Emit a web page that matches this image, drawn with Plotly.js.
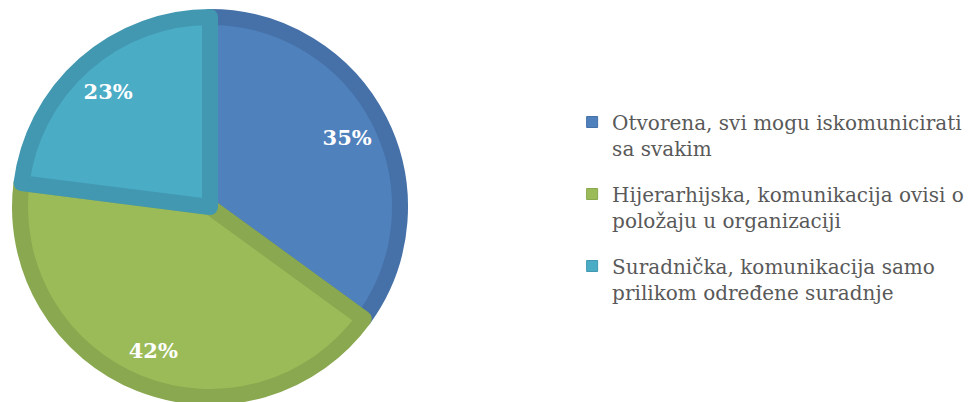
<!DOCTYPE html>
<html>
<head>
<meta charset="utf-8">
<script src="https://cdn.plot.ly/plotly-3.0.1.min.js"></script>
<style>html,body{margin:0;padding:0;background:#fff;}#chart{width:973px;height:402px;}</style>
</head>
<body>
<div id="chart"></div>
<script>
const categories = [
  "Otvorena, svi mogu iskomunicirati<br>sa svakim",
  "Hijerarhijska, komunikacija ovisi o<br>položaju u organizaciji",
  "Suradnička, komunikacija samo<br>prilikom određene suradnje"
];
const values = [35, 42, 23];
const fillColors = ["#4F81BD", "#9BBB59", "#4BACC6"];
const borderColors = ["#4671A8", "#8AA84F", "#4298B0"];

const pieDomain = {x: [20/973, 400/973], y: [5/402, 385/402]};

// Visible pie
const pie = {
  type: "pie",
  labels: categories,
  values: values,
  sort: false,
  direction: "clockwise",
  rotation: 0,
  textinfo: "none",
  marker: {colors: fillColors, line: {color: borderColors, width: 16}},
  domain: pieDomain,
  showlegend: false,
  hoverinfo: "none"
};

// Transparent ring carrying the percentage labels
const labelRing = {
  type: "pie",
  labels: categories,
  values: values,
  sort: false,
  direction: "clockwise",
  rotation: 0,
  hole: 0.62,
  textinfo: "percent",
  texttemplate: "%{percent:.0%}",
  textposition: "inside",
  insidetextorientation: "horizontal",
  textfont: {family: "DejaVu Serif", size: 21, color: "#FFFFFF", weight: "bold"},
  marker: {colors: ["rgba(0,0,0,0)", "rgba(0,0,0,0)", "rgba(0,0,0,0)"], line: {width: 0}},
  domain: pieDomain,
  showlegend: false,
  hoverinfo: "none"
};

// Legend entries
const legendTraces = categories.map((name, i) => ({
  type: "scatter",
  mode: "markers",
  x: [null], y: [null],
  name: name,
  legendgroup: "g" + i,
  marker: {symbol: "square", size: 11, color: fillColors[i], line: {color: borderColors[i], width: 1}},
  hoverinfo: "none"
}));

const layout = {
  width: 973, height: 402,
  margin: {l: 0, r: 0, t: 0, b: 0},
  paper_bgcolor: "#FFFFFF",
  plot_bgcolor: "rgba(0,0,0,0)",
  xaxis: {visible: false, domain: [0.99, 1]},
  yaxis: {visible: false, domain: [0.99, 1]},
  showlegend: true,
  legend: {
    x: 0.588, xanchor: "left", y: 0.745, yanchor: "top",
    font: {family: "DejaVu Serif", size: 20, color: "#595959"},
    itemwidth: 30,
    valign: "top",
    traceorder: "grouped",
    tracegroupgap: 17,
    bgcolor: "rgba(0,0,0,0)"
  }
};

Plotly.newPlot("chart", [pie, labelRing, ...legendTraces], layout, {staticPlot: true});
</script>
</body>
</html>
